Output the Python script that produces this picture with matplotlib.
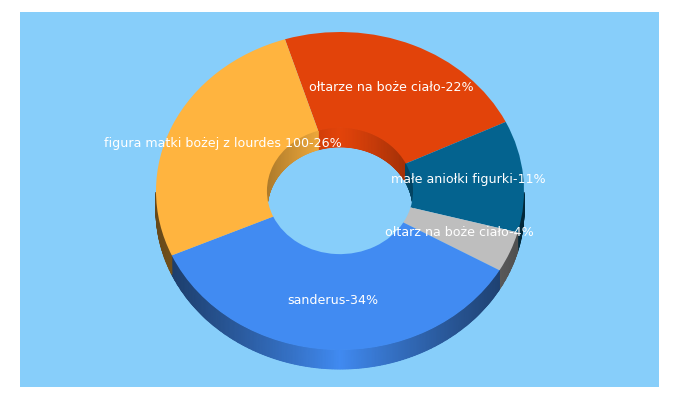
import numpy as np
import matplotlib
matplotlib.use("Agg")
import matplotlib.pyplot as plt
from matplotlib.colors import LinearSegmentedColormap

# slices in the order they go round the chart, clockwise from the top
names = ["ołtarze na boże ciało", "małe aniołki figurki", "ołtarz na boże ciało",
         "sanderus", "figura matki bożej z lourdes 100"]
values = [22, 11, 4, 34, 26]
colors = ["#E2430A", "#04638F", "#BEBEBE", "#418BF2", "#FFB43F"]
labels = [n + "-" + str(v) + "%" for n, v in zip(names, values)]

background = "#87CEFA"
depth = 19 / 159     # height of the 3d side, in y units of the pie
hole = 0.397


def side(t, radius, f, color):
    # one side face, colour fades from black (0) to the slice colour (1)
    cmap = LinearSegmentedColormap.from_list("side", ["black", color])
    x = radius * np.cos(t)
    y = radius * np.sin(t)
    X = np.array([x, x])
    Y = np.array([y, y - depth])
    C = np.array([f, f])
    ax.pcolormesh(X, Y, C, shading="gouraud", cmap=cmap, vmin=0, vmax=1, zorder=2)


fig = plt.figure(figsize=(6.8, 4), dpi=100, facecolor="white")
ax = fig.add_axes([20 / 680, 13 / 400, 639 / 680, 375 / 400])

wedges, texts = ax.pie(values, labels=labels, colors=colors, startangle=107.4,
                       counterclock=False, labeldistance=0.7,
                       wedgeprops={"width": 1 - hole, "linewidth": 0},
                       textprops={"color": "white", "fontsize": 9.1, "zorder": 6})
for t in texts:
    t.set_ha("center")
    t.set_va("center")
    px, py = t.get_position()
    t.set_position((px, py + 1.5 / 159))
for w in wedges:
    w.set_zorder(5)

# pie forces a round shape, the chart is squashed so undo that
ax.set_aspect("auto")
ax.set_xlim((20 - 340) / 184, (659 - 340) / 184)
ax.set_ylim((191 - 387) / 159, (191 - 12) / 159)
ax.set_frame_on(True)
ax.set_facecolor(background)
for s in ax.spines.values():
    s.set_visible(False)

for w, c in zip(wedges, colors):
    t = np.radians(np.linspace(w.theta1, w.theta2, int(w.theta2 - w.theta1) * 2 + 2))
    low = t[np.sin(t) <= 0]
    high = t[np.sin(t) >= 0]
    if len(low) > 1:
        side(low, 1, 1 - 0.6 * np.abs(np.cos(low)) ** 0.9, c)
    if len(high) > 1:
        side(high, hole, 1 - 0.32 * np.abs(np.cos(high)) ** 1.2, c)

fig.savefig("out.png", dpi=100, facecolor="white")
